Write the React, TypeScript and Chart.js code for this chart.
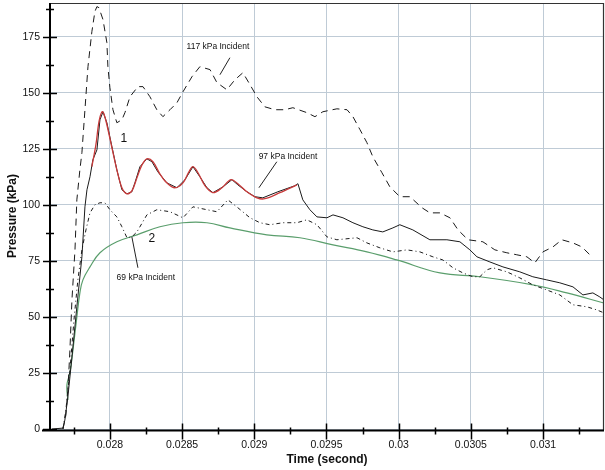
import React, { useEffect, useRef } from "react";
import { Chart, registerables } from "chart.js";
Chart.register(...registerables);

// ---- Data (time in seconds, pressure in kPa) ----
const t117 = [0.027675, 0.027695, 0.027709, 0.027723, 0.027737, 0.027758, 0.027771, 0.027792, 0.027806, 0.027827, 0.027848, 0.027875, 0.027896, 0.02791, 0.027924, 0.027952, 0.027979, 0.027986, 0.028, 0.028021, 0.028048, 0.028083, 0.028104, 0.028139, 0.028194, 0.028229, 0.028277, 0.028325, 0.028367, 0.028416, 0.028464, 0.028506, 0.028568, 0.028623, 0.028693, 0.028741, 0.02881, 0.028866, 0.028921, 0.02897, 0.029018, 0.029073, 0.029143, 0.029212, 0.029267, 0.029364, 0.02942, 0.029475, 0.029572, 0.029642, 0.029683, 0.029732, 0.02978, 0.029821, 0.029884, 0.029939, 0.030008, 0.030078, 0.030161, 0.030216, 0.030286, 0.030355, 0.030411, 0.03048, 0.030583, 0.030666, 0.030749, 0.030818, 0.030888, 0.030943, 0.030999, 0.031068, 0.03113, 0.031207, 0.031269, 0.031324, 0.031345];
const p117 = [0, 6.2, 17.4, 35.3, 57.6, 79.9, 102.2, 115.6, 123.2, 142.4, 161.6, 177.2, 186.2, 188.4, 187.9, 182.6, 172.3, 161.6, 152.2, 142.4, 136.6, 137.9, 141.1, 148.2, 152.7, 152.7, 148.2, 142.4, 139.3, 142.4, 145.5, 150.4, 157.1, 161.6, 160.3, 154.5, 151.3, 155.8, 158.9, 153.6, 148.2, 143.7, 142.4, 142.4, 143.3, 141.1, 139.3, 141.5, 142.8, 142.4, 139.3, 133.5, 127.7, 121.4, 114.3, 108.0, 103.6, 103.6, 98.7, 96.4, 96.4, 94.2, 88.8, 84.4, 83.5, 79.9, 78.6, 77.7, 76.8, 74.1, 79.0, 81.2, 84.4, 83.0, 81.2, 77.7, 78.6];

const t97 = [0.027599, 0.027675, 0.027688, 0.027709, 0.027737, 0.027771, 0.027806, 0.027827, 0.027841, 0.027862, 0.027882, 0.02791, 0.027931, 0.027952, 0.027979, 0.028014, 0.028048, 0.028083, 0.028118, 0.028152, 0.028173, 0.028208, 0.028256, 0.028291, 0.028332, 0.028394, 0.028464, 0.02852, 0.028575, 0.028623, 0.028672, 0.028713, 0.028783, 0.028845, 0.028886, 0.028949, 0.029004, 0.029059, 0.029163, 0.029281, 0.029302, 0.029336, 0.029385, 0.029434, 0.029503, 0.029545, 0.029614, 0.029683, 0.029752, 0.029821, 0.02989, 0.02996, 0.030008, 0.030098, 0.030216, 0.030334, 0.030424, 0.030493, 0.030542, 0.030632, 0.030722, 0.030839, 0.030929, 0.031026, 0.031116, 0.031207, 0.031276, 0.031345, 0.031393, 0.031421];
const p97 = [0, 0.4, 4.0, 14.3, 32.1, 54.5, 76.8, 99.1, 106.7, 112.5, 120.1, 124.5, 137.9, 141.5, 136.6, 125.9, 115.6, 106.7, 104.9, 105.8, 109.8, 117.0, 120.5, 119.2, 114.7, 109.8, 107.6, 111.2, 117.0, 112.5, 107.6, 105.4, 108.0, 111.2, 108.9, 105.8, 103.6, 103.1, 105.8, 108.5, 109.4, 102.2, 97.8, 94.6, 94.2, 95.5, 94.2, 92.0, 90.2, 88.8, 87.9, 89.7, 91.1, 88.8, 84.4, 84.4, 83.5, 79.9, 76.8, 74.5, 72.3, 70.1, 67.9, 66.5, 65.2, 63.4, 59.8, 60.7, 58.9, 57.6];

const tFit = [0.027875, 0.027903, 0.027924, 0.027945, 0.027958, 0.027979, 0.028014, 0.028048, 0.028083, 0.028118, 0.028152, 0.028187, 0.028222, 0.028256, 0.028298, 0.028346, 0.028394, 0.02845, 0.028506, 0.028547, 0.028575, 0.02861, 0.028658, 0.028713, 0.028776, 0.028838, 0.028886, 0.028949, 0.029018, 0.029073, 0.029177, 0.029295];
const pFit = [117.0, 126.8, 137.0, 141.5, 140.6, 135.7, 125.4, 115.6, 107.6, 104.9, 106.2, 112.0, 117.8, 120.5, 119.2, 113.8, 109.8, 107.6, 109.8, 114.7, 117.0, 114.3, 108.5, 105.4, 107.6, 111.2, 109.4, 105.8, 103.1, 102.7, 105.4, 108.9];

const t69 = [0.027675, 0.027695, 0.027723, 0.027751, 0.027778, 0.027806, 0.027834, 0.027862, 0.027896, 0.027931, 0.027965, 0.028, 0.028048, 0.028083, 0.028118, 0.028152, 0.028187, 0.028256, 0.028325, 0.028416, 0.028506, 0.028575, 0.028672, 0.028741, 0.028817, 0.028886, 0.02897, 0.029039, 0.029108, 0.029198, 0.029295, 0.029364, 0.029434, 0.029503, 0.029572, 0.029711, 0.02978, 0.02987, 0.02996, 0.030057, 0.030147, 0.030237, 0.030306, 0.030376, 0.030445, 0.030514, 0.030562, 0.030611, 0.030653, 0.030749, 0.030839, 0.030929, 0.031026, 0.031116, 0.031207, 0.031304, 0.031373, 0.031421];
const p69 = [0, 8.5, 26.3, 48.7, 66.5, 79.9, 88.8, 96.4, 100.0, 100.9, 100.9, 97.8, 94.6, 90.2, 85.3, 85.7, 87.9, 95.5, 97.8, 96.9, 94.2, 99.1, 97.8, 96.9, 102.2, 98.7, 94.2, 92.0, 91.1, 92.0, 92.0, 93.3, 91.1, 85.7, 84.4, 85.3, 83.0, 80.8, 79.0, 79.9, 79.0, 76.8, 75.4, 71.9, 69.6, 67.9, 67.9, 71.0, 71.9, 70.1, 67.4, 64.3, 62.0, 59.8, 55.4, 54.5, 53.1, 51.8];

const tGreen = [0.027709, 0.027702, 0.027723, 0.027744, 0.027771, 0.027792, 0.027813, 0.027862, 0.027931, 0.028048, 0.028187, 0.028346, 0.028506, 0.028672, 0.028831, 0.029087, 0.029316, 0.029545, 0.02978, 0.029987, 0.030286, 0.030562, 0.030929, 0.031165, 0.031421];
const pGreen = [12.9, 19.6, 25.0, 35.3, 50.0, 60.7, 66.5, 72.3, 78.6, 83.5, 86.6, 90.2, 92.0, 92.0, 89.7, 86.6, 85.3, 82.1, 79.0, 75.4, 69.6, 67.9, 64.3, 60.7, 56.2];

const xMin = 0.027585;
const xMax = 0.031422;
const yMin = 0;
const yMax = 190;
const xMajorStep = 0.0005;
const xMinorStep = 0.00025;
const yMajorStep = 25;
const yMinorStep = 12.5;

// annotation texts: [text, time, pressure, font size]
const noteTexts: [string, number, number, number][] = [
  ["117 kPa Incident", 0.028748, 170.5, 8.5],
  ["97 kPa Incident", 0.029233, 121.4, 8.5],
  ["69 kPa Incident", 0.028249, 67.4, 8.5],
  ["1", 0.028097, 129.5, 12],
  ["2", 0.028291, 84.8, 12],
];
// leader lines: [t1, p1, t2, p2]
const leaders: [number, number, number, number][] = [
  [0.028831, 165.6, 0.028762, 158.0],
  [0.029156, 119.2, 0.029032, 107.6],
  [0.028194, 71.9, 0.028152, 85.7],
];

const FONT = "'Liberation Sans', Arial, sans-serif";
const GRID = "#bfcbd6";

const zip = (ts: number[], ps: number[]) => ts.map((t, i) => ({ x: t, y: ps[i] }));

const axesPlugin = {
  id: "customAxes",
  afterDraw(chart: any) {
    const { ctx, chartArea, scales } = chart;
    const xs = scales.x;
    const ys = scales.y;
    const { left, right, top, bottom } = chartArea;
    ctx.save();
    ctx.strokeStyle = "#333";
    ctx.lineWidth = 1.2;
    ctx.beginPath();
    ctx.moveTo(left, top + 0.5);
    ctx.lineTo(right - 0.5, top + 0.5);
    ctx.lineTo(right - 0.5, bottom + 1);
    ctx.stroke();
    ctx.strokeStyle = "#000";
    ctx.lineWidth = 2;
    ctx.beginPath();
    ctx.moveTo(left, top);
    ctx.lineTo(left, bottom + 2);
    ctx.moveTo(left - 8, bottom + 1.5);
    ctx.lineTo(right, bottom + 1.5);
    ctx.stroke();
    ctx.lineWidth = 1.5;
    ctx.beginPath();
    for (let v = yMin; v <= yMax + 1e-9; v += yMinorStep) {
      const py = Math.round(ys.getPixelForValue(v)) + 0.5;
      const major = Math.abs(v / yMajorStep - Math.round(v / yMajorStep)) < 1e-6;
      const a = major ? 7 : 4;
      ctx.moveTo(left - a, py);
      ctx.lineTo(left + a, py);
    }
    const start = Math.ceil(xMin / xMinorStep - 1e-6);
    const end = Math.floor(xMax / xMinorStep + 1e-6);
    for (let k = start; k <= end; k++) {
      const v = k * xMinorStep;
      const px = Math.round(xs.getPixelForValue(v)) + 0.5;
      const major = k % 2 === 0;
      const ax = bottom + 1.5;
      if (major) {
        ctx.moveTo(px, ax - 7);
        ctx.lineTo(px, ax + 9);
      } else {
        ctx.moveTo(px, ax - 3);
        ctx.lineTo(px, ax + 4);
      }
    }
    ctx.stroke();
    ctx.restore();
  },
};

const notesPlugin = {
  id: "notes",
  afterDatasetsDraw(chart: any) {
    const { ctx, scales } = chart;
    const xs = scales.x;
    const ys = scales.y;
    ctx.save();
    ctx.strokeStyle = "#222";
    ctx.lineWidth = 1;
    for (const l of leaders) {
      ctx.beginPath();
      ctx.moveTo(xs.getPixelForValue(l[0]), ys.getPixelForValue(l[1]));
      ctx.lineTo(xs.getPixelForValue(l[2]), ys.getPixelForValue(l[3]));
      ctx.stroke();
    }
    ctx.fillStyle = "#111";
    ctx.textAlign = "center";
    ctx.textBaseline = "middle";
    for (const [txt, t, p, size] of noteTexts) {
      ctx.font = `${size}px ${FONT}`;
      ctx.fillText(txt, xs.getPixelForValue(t), ys.getPixelForValue(p));
    }
    ctx.restore();
  },
};

export default function App() {
  const ref = useRef<HTMLCanvasElement>(null);
  useEffect(() => {
    if (!ref.current) return;
    const chart = new Chart(ref.current, {
      type: "line",
      data: {
        datasets: [
          {
            label: "97 kPa fit",
            data: zip(tFit, pFit),
            borderColor: "#c83a3a",
            borderWidth: 1.3,
            pointRadius: 0,
            tension: 0.35,
            order: 0,
          },
          {
            label: "97 kPa Incident",
            data: zip(t97, p97),
            borderColor: "#1a1a1a",
            borderWidth: 1,
            pointRadius: 0,
            tension: 0,
            order: 1,
          },
          {
            label: "117 kPa Incident",
            data: zip(t117, p117),
            borderColor: "#1a1a1a",
            borderWidth: 1,
            borderDash: [7, 5],
            pointRadius: 0,
            tension: 0,
            order: 2,
          },
          {
            label: "69 kPa Incident",
            data: zip(t69, p69),
            borderColor: "#1a1a1a",
            borderWidth: 1,
            borderDash: [4, 3, 1, 3],
            pointRadius: 0,
            tension: 0,
            order: 3,
          },
          {
            label: "Green",
            data: zip(tGreen, pGreen),
            borderColor: "#5a9e6c",
            borderWidth: 1.2,
            pointRadius: 0,
            tension: 0.4,
            order: 4,
          },
        ],
      },
      options: {
        responsive: false,
        animation: false,
        events: [],
        layout: { padding: { top: 3, right: 1, left: 0, bottom: 0 } },
        plugins: { legend: { display: false }, tooltip: { enabled: false } },
        scales: {
          x: {
            type: "linear",
            position: "bottom",
            min: xMin,
            max: xMax,
            afterFit: (s: any) => {
              s.height = 41;
              s.paddingLeft = 0;
              s.paddingRight = 0;
            },
            border: { display: false },
            grid: { color: GRID, lineWidth: 1, drawTicks: false },
            ticks: {
              stepSize: xMajorStep,
              includeBounds: false,
              autoSkip: false,
              maxRotation: 0,
              padding: 10,
              color: "#111",
              font: { family: FONT, size: 10.5 },
              callback: (v: any) => Number(v).toFixed(4).replace(/0+$/, ""),
            },
            title: {
              display: true,
              text: "Time (second)",
              color: "#111",
              font: { family: FONT, size: 12, weight: "bold" },
              padding: { top: 0, bottom: 3 },
            },
          },
          y: {
            type: "linear",
            min: yMin,
            max: yMax,
            afterFit: (s: any) => {
              s.width = 50;
              s.paddingTop = 0;
              s.paddingBottom = 0;
            },
            border: { display: false },
            grid: { color: GRID, lineWidth: 1, drawTicks: false },
            ticks: {
              stepSize: yMajorStep,
              includeBounds: false,
              padding: 10,
              color: "#111",
              font: { family: FONT, size: 10.5 },
            },
            title: {
              display: true,
              text: "Pressure (kPa)",
              color: "#111",
              font: { family: FONT, size: 12, weight: "bold" },
              padding: { top: 5, bottom: 0 },
            },
          },
        },
      },
      plugins: [notesPlugin, axesPlugin],
    } as any);
    return () => chart.destroy();
  }, []);
  return (
    <canvas
      ref={ref}
      width={605}
      height={470}
      style={{ position: "absolute", left: 0, top: 0, display: "block" }}
    />
  );
}
